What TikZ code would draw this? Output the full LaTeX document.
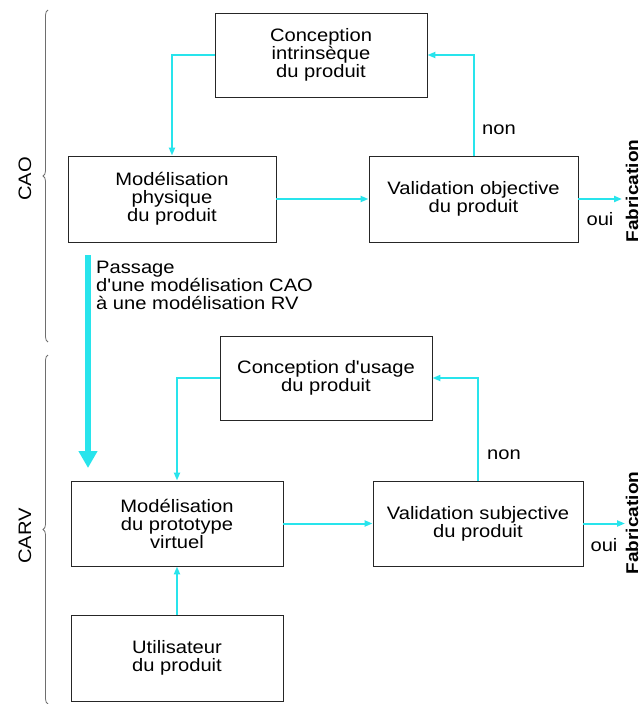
\documentclass[tikz,border=0pt]{standalone}
\usepackage{fontspec}
% family without TeX ligature mapping, so that ' stays a straight quote
\newfontfamily\diagfont[FakeStretch=1.12]{Liberation Sans}
\usetikzlibrary{arrows.meta,decorations.pathreplacing}
\definecolor{flow}{RGB}{40,228,236}
\definecolor{bracegray}{RGB}{110,110,110}
\begin{document}
\begin{tikzpicture}[x=1pt,y=-1pt,
  box/.style={draw=black!85,line width=0.9pt,align=center,inner sep=2pt,
    font=\diagfont\fontsize{18}{18}\selectfont},
  link/.style={draw=flow,line width=2pt,-{Triangle[length=8pt,width=6pt]}},
  lab/.style={font=\diagfont\fontsize{18}{18}\selectfont,inner sep=0pt},
  side/.style={font=\diagfont\fontsize{18}{18}\selectfont,rotate=90,inner sep=0pt},
  outlab/.style={font=\diagfont\fontsize{17}{18}\selectfont\bfseries,rotate=90,inner sep=0pt},
  grp/.style={draw=bracegray,line width=0.8pt,decorate,decoration={brace,amplitude=5pt}}]
\useasboundingbox (0,0) rectangle (641,704);

% upper stage: CAO
\node[box,minimum width=212pt,minimum height=84pt] (ci) at (321,55)
  {Conception\\intrinsèque\\du produit};
\node[box,minimum width=208pt,minimum height=86pt] (mp) at (172,199)
  {Modélisation\\physique\\du produit};
\node[box,minimum width=209pt,minimum height=86pt] (vo) at (473.5,199)
  {Validation objective\\du produit};
\coordinate (f1) at (622,199);

\draw[link] (ci.west) -| (mp.north);
\draw[link] (vo.north) |- (ci.east);
\draw[link] (mp.east) -- (vo.west);
\draw[link] (vo.east) -- (f1);
\node[lab] (n1) at (499,130) {non};
\node[lab] (o1) at (600,219) {oui};
\node[outlab] (fab1) at (632,191) {Fabrication};

% lower stage: CARV
\node[box,minimum width=212pt,minimum height=84pt] (cu) at (326,378)
  {Conception d'usage\\du produit};
\node[box,minimum width=212pt,minimum height=85pt] (mv) at (177,523.5)
  {Modélisation\\du prototype\\virtuel};
\node[box,minimum width=210pt,minimum height=85pt] (vs) at (478,523.5)
  {Validation subjective\\du produit};
\node[box,minimum width=212pt,minimum height=86pt] (ut) at (177,658)
  {Utilisateur\\du produit};
\coordinate (f2) at (625,523.5);

\draw[link] (cu.west) -| (mv.north);
\draw[link] (vs.north) |- (cu.east);
\draw[link] (mv.east) -- (vs.west);
\draw[link] (vs.east) -- (f2);
\draw[link] (ut.north) -- (mv.south);
\node[lab] (n2) at (504,455) {non};
\node[lab] (o2) at (604,545) {oui};
\node[outlab] (fab2) at (632,523) {Fabrication};

% passage from CAO to CARV
\coordinate (ps) at (88,255);
\coordinate (pe) at (88,468);
\draw[draw=flow,line width=5.5pt,-{Triangle[length=17pt,width=18pt]}] (ps) -- (pe);
\node[lab,anchor=north west,align=left] (pt) at (96,261)
  {Passage\\d'une modélisation CAO\\à une modélisation RV};

% stage braces
\draw[grp] (48,342) -- (48,10);
\draw[grp] (48,704) -- (48,355);
\node[side] (cao) at (25,179) {CAO};
\node[side] (carv) at (25,536) {CARV};
\end{tikzpicture}
\end{document}
